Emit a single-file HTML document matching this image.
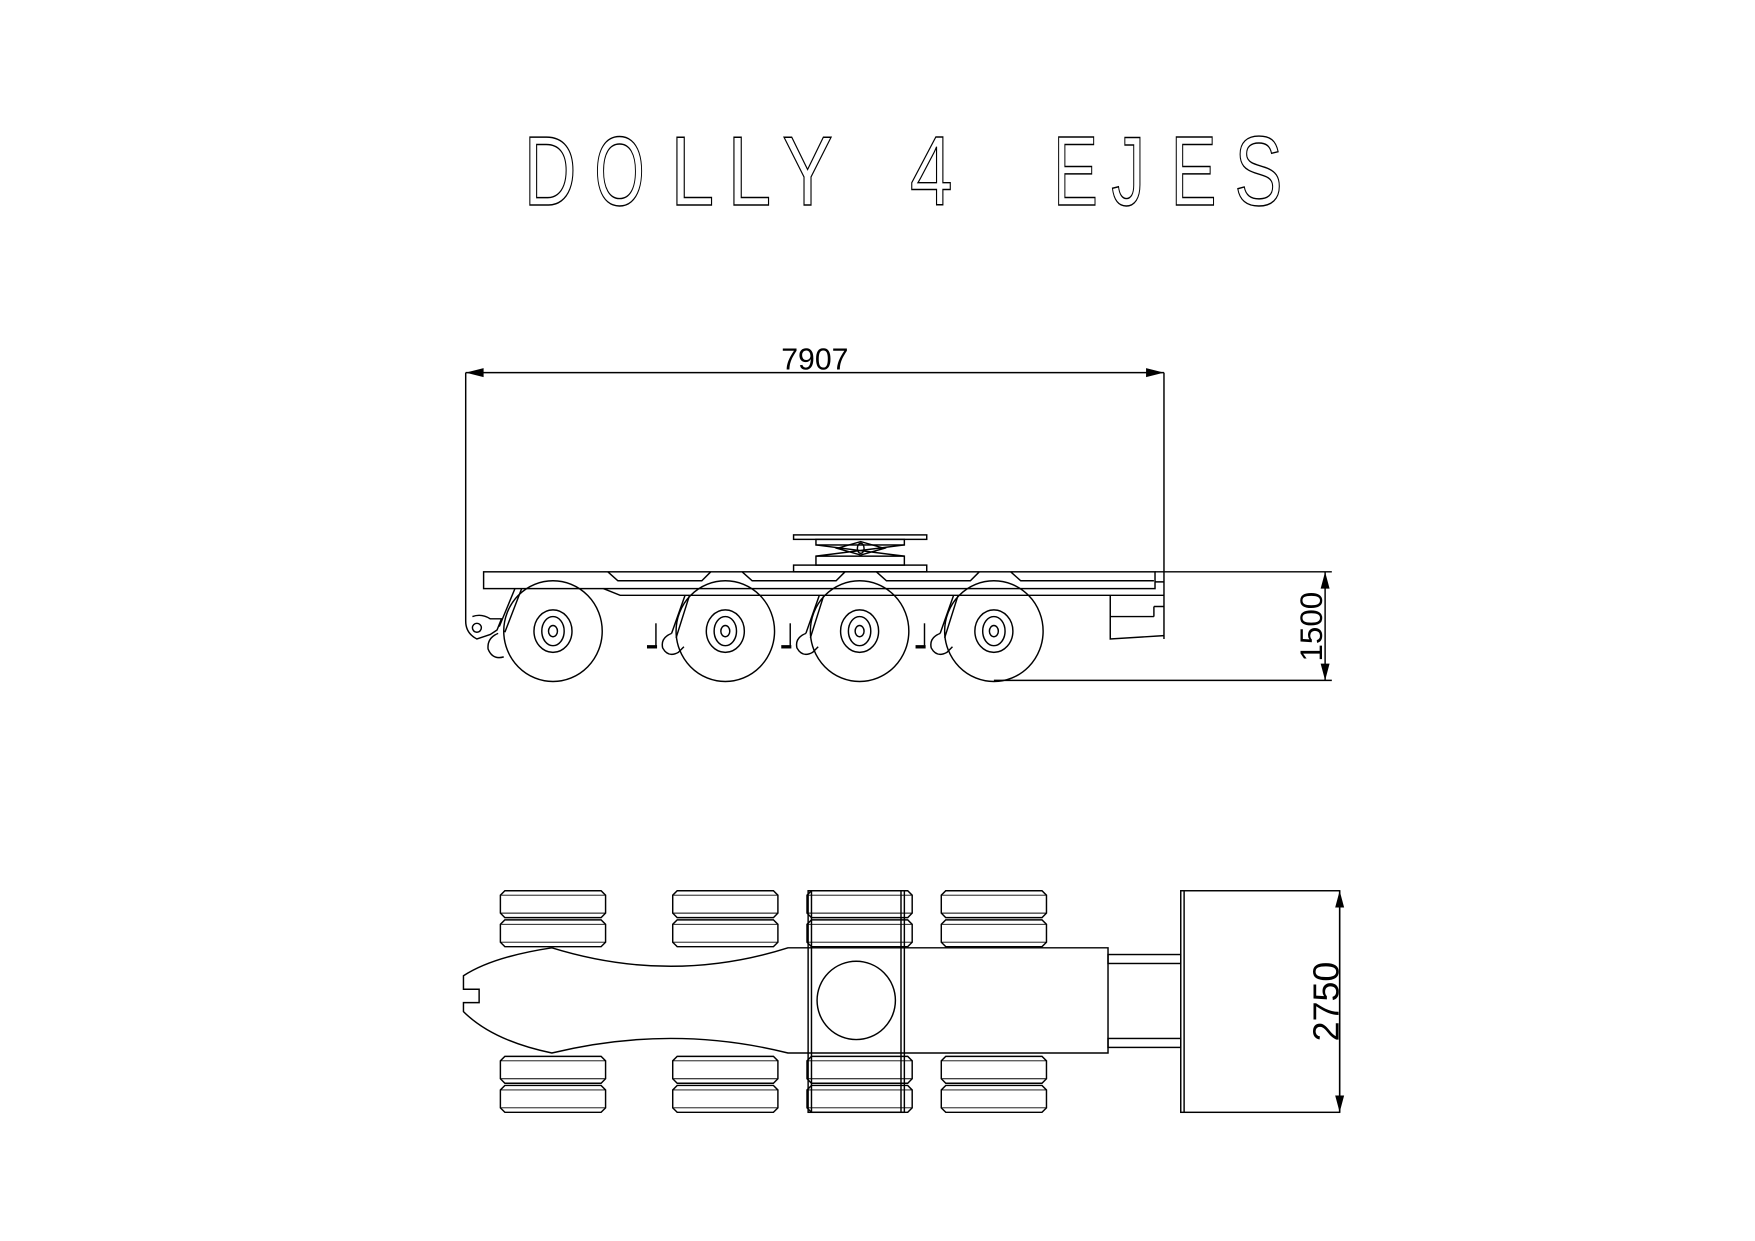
<!DOCTYPE html>
<html><head><meta charset="utf-8"><style>
html,body{margin:0;padding:0;background:#fff}
svg{display:block}
</style></head><body>
<svg width="1755" height="1241" viewBox="0 0 1568 1109" xmlns="http://www.w3.org/2000/svg">
<rect width="1568" height="1109" fill="#fff"/>
<g font-family="Liberation Sans, sans-serif" font-size="88" fill="none" stroke="#000" stroke-width="1.3">
<text x="468" y="183" textLength="47" lengthAdjust="spacingAndGlyphs">D</text>
<text x="531" y="183" textLength="45" lengthAdjust="spacingAndGlyphs">O</text>
<text x="599" y="183" textLength="39" lengthAdjust="spacingAndGlyphs">L</text>
<text x="650" y="183" textLength="39" lengthAdjust="spacingAndGlyphs">L</text>
<text x="699" y="183" textLength="45" lengthAdjust="spacingAndGlyphs">Y</text>
<text x="813" y="183" textLength="38" lengthAdjust="spacingAndGlyphs">4</text>
<text x="941" y="183" textLength="40" lengthAdjust="spacingAndGlyphs">E</text>
<text x="993" y="183" textLength="30" lengthAdjust="spacingAndGlyphs">J</text>
<text x="1046" y="183" textLength="41" lengthAdjust="spacingAndGlyphs">E</text>
<text x="1103" y="183" textLength="43" lengthAdjust="spacingAndGlyphs">S</text>
</g>

<g fill="none" stroke="#000" stroke-width="1.3">
<!-- dimension 7907 -->
<line x1="416" y1="333" x2="1040" y2="333"/>
<path d="M416,333 L432,329 L432,337 Z M1040,333 L1024,329 L1024,337 Z" fill="#000" stroke="none"/>
<line x1="416" y1="333" x2="416" y2="555"/>
<line x1="1040" y1="333" x2="1040" y2="571"/>

<!-- fifth wheel -->
<rect x="709" y="478" width="119" height="4"/>
<rect x="729" y="482" width="79" height="5"/>
<path d="M729,487 L808,497 M808,487 L729,497 M748,490 L769,484 L790,490 L769,496 Z"/>
<ellipse cx="769" cy="490" rx="3" ry="4.5"/>
<rect x="729" y="497" width="79" height="8"/>
<rect x="709" y="505" width="119" height="6"/>

<!-- deck -->
<rect x="432" y="511" width="600" height="15"/>
<path d="M543,511 L552,519 L627,519 L635,511 M663,511 L672,519 L747,519 L755,511 M783,511 L792,519 L867,519 L875,511 M903,511 L912,519 L1031,519"/>
<path d="M539,526 L554,532 L1040,532 M1032,520 L1040,520"/>
<path d="M992,532 L992,571 L1040,568 M992,551 L1031,551 M1031,542 L1040,542 M1031,542 L1031,551"/>

<!-- dimension 1500 -->
<line x1="1032" y1="511" x2="1190" y2="511"/>
<line x1="888" y1="608" x2="1190" y2="608"/>
<line x1="1184" y1="511" x2="1184" y2="608"/>
<path d="M1184,511 L1180,526 L1188,526 Z M1184,608 L1180,593 L1188,593 Z" fill="#000" stroke="none"/>

<!-- hitch -->
<path d="M416,555 Q416,566 426,571 L438,567 L444,563 L448,553 L438,553 Q430,548 422,551"/>
<circle cx="426" cy="561" r="4"/>
<path d="M460,526 L446,560 M466,526 L451,565"/>
<path d="M445,566 Q435,570 436,580 Q440,590 450,587"/>

<!-- wheels -->
<g id="w">
<ellipse cx="494" cy="564" rx="44" ry="45"/>
<ellipse cx="494" cy="564" rx="17" ry="19"/>
<ellipse cx="494" cy="564" rx="10" ry="13"/>
<ellipse cx="494" cy="564" rx="4" ry="5"/>
</g>
<use href="#w" x="154"/>
<use href="#w" x="274"/>
<use href="#w" x="394"/>

<!-- suspension brackets -->
<g id="s">
<path d="M612,532 L600,566 M616,532 L604,570"/>
<path d="M600,566 Q590,570 592,579 Q597,588 606,583 L611,578"/>
<line x1="586" y1="557" x2="586" y2="578"/>
<line x1="578" y1="578" x2="587" y2="578" stroke-width="3"/>
</g>
<use href="#s" x="120"/>
<use href="#s" x="240"/>

<!-- dimension text -->
<g font-family="Liberation Sans, sans-serif" fill="#000" stroke="none">
<text x="728" y="330" font-size="27" text-anchor="middle">7907</text>
<text transform="translate(1181,560) rotate(-90)" font-size="28" text-anchor="middle">1500</text>
<text transform="translate(1196,895) rotate(-90)" font-size="32" text-anchor="middle">2750</text>
</g>

<!-- top view tires -->
<defs>
<g id="t">
<path d="M451,796 L537,796 L541,800 L541,816 L537,820 L451,820 L447,816 L447,800 Z"/>
<path d="M447,800 L541,800 M447,816 L541,816" stroke-width="0.8"/>
<path d="M451,822 L537,822 L541,826 L541,842 L537,846 L451,846 L447,842 L447,826 Z"/>
<path d="M447,826 L541,826 M447,842 L541,842" stroke-width="0.8"/>
</g>
</defs>
<use href="#t"/><use href="#t" x="154"/><use href="#t" x="274"/><use href="#t" x="394"/>
<use href="#t" y="148"/><use href="#t" x="154" y="148"/><use href="#t" x="274" y="148"/><use href="#t" x="394" y="148"/>

<!-- chassis -->
<path d="M704,847 L990,847 L990,941 L704,941 Q600,915 493,941 Q440,930 414,904 L414,896 L428,896 L428,884 L414,884 L414,872 Q440,855 493,847 Q600,880 704,847 Z" fill="#fff"/>
<rect x="722" y="796" width="86" height="198"/>
<line x1="725" y1="796" x2="725" y2="994"/>
<line x1="805" y1="796" x2="805" y2="994"/>
<circle cx="765" cy="894" r="35"/>

<!-- rods and block -->
<rect x="990" y="853" width="65" height="8"/>
<rect x="990" y="928" width="65" height="8"/>
<rect x="1055" y="796" width="142" height="198"/>
<line x1="1058" y1="796" x2="1058" y2="994"/>
<line x1="1197" y1="796" x2="1197" y2="994"/>
<path d="M1197,796 L1193,811 L1201,811 Z M1197,994 L1193,979 L1201,979 Z" fill="#000" stroke="none"/>
</g>
</svg>
</body></html>
